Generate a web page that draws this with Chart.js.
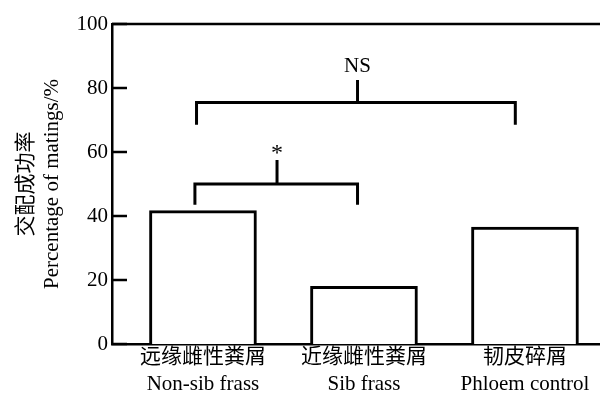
<!DOCTYPE html>
<html>
<head>
<meta charset="utf-8">
<script src="https://cdn.jsdelivr.net/npm/chart.js@4"></script>
<style>
  html, body { margin: 0; padding: 0; background: #fff; }
  #wrap { width: 600px; height: 398px; }
</style>
</head>
<body>
<div id="wrap"><canvas id="graficoAcasalamento"></canvas></div>
<script>
// dados
const categorias = [
    ["远缘雌性粪屑", "Non-sib frass"],
    ["近缘雌性粪屑", "Sib frass"],
    ["韧皮碎屑", "Phloem control"],
];
const posicoes = [0, 1, 2];
const taxaAcasalamento = [41.7, 18, 36.5];
const ticksY = [0, 20, 40, 60, 80, 100];

// colchetes de significancia
const colcheteParX = [-0.05, 0.96];
const colcheteParY = [43.5, 50];
const hasteParX = 0.46;
const hasteParTopo = 57.5;
const rotuloPar = "*";

const colcheteTodosX = [-0.04, 1.94];
const colcheteTodosY = [68.5, 75.5];
const hasteTodosX = 0.96;
const hasteTodosTopo = 82.5;
const rotuloTodos = "NS";

const fonteSerif = "'Liberation Serif', 'Times New Roman', 'Noto Sans CJK SC', serif";

function colchete(xs, ys) {
    return [
        { x: xs[0], y: ys[0] },
        { x: xs[0], y: ys[1] },
        { x: xs[1], y: ys[1] },
        { x: xs[1], y: ys[0] },
    ];
}

function linha(dados) {
    return {
        type: "line",
        data: dados,
        borderColor: "#000",
        borderWidth: 3,
        pointRadius: 0,
        tension: 0,
        fill: false,
    };
}

const extrasPlugin = {
    id: "extras",
    afterDraw(chart) {
        const ctx = chart.ctx;
        const x = chart.scales.x;
        const y = chart.scales.y;
        ctx.save();
        ctx.strokeStyle = "#000";
        ctx.lineWidth = 2.5;
        // borda superior
        ctx.beginPath();
        ctx.moveTo(chart.chartArea.left, y.getPixelForValue(100));
        ctx.lineTo(chart.chartArea.right, y.getPixelForValue(100));
        ctx.stroke();
        // marcas para dentro
        ticksY.forEach((v) => {
            const py = y.getPixelForValue(v);
            ctx.beginPath();
            ctx.moveTo(chart.chartArea.left, py);
            ctx.lineTo(chart.chartArea.left + 15, py);
            ctx.stroke();
        });
        // rotulos
        ctx.fillStyle = "#000";
        ctx.textAlign = "center";
        ctx.textBaseline = "alphabetic";
        ctx.font = "21px " + fonteSerif;
        ctx.fillText(rotuloTodos, x.getPixelForValue(hasteTodosX), y.getPixelForValue(hasteTodosTopo) - 8);
        ctx.font = "24px " + fonteSerif;
        ctx.fillText(rotuloPar, x.getPixelForValue(hasteParX), y.getPixelForValue(hasteParTopo));
        ctx.restore();
    },
};

const ctx = document.getElementById("graficoAcasalamento").getContext("2d");

new Chart(ctx, {
    data: {
        datasets: [
            {
                type: "bar",
                data: posicoes.map((p, i) => ({ x: p, y: taxaAcasalamento[i] })),
                backgroundColor: "#fff",
                borderColor: "#000",
                borderWidth: 3,
                barThickness: 107,
            },
            linha(colchete(colcheteParX, colcheteParY)),
            linha([{ x: hasteParX, y: colcheteParY[1] }, { x: hasteParX, y: hasteParTopo }]),
            linha(colchete(colcheteTodosX, colcheteTodosY)),
            linha([{ x: hasteTodosX, y: colcheteTodosY[1] }, { x: hasteTodosX, y: hasteTodosTopo }]),
        ],
    },
    options: {
        responsive: true,
        maintainAspectRatio: false,
        animation: false,
        layout: { padding: { top: 24, left: 0, right: 0, bottom: 0 } },
        plugins: {
            legend: { display: false },
            tooltip: { enabled: false },
        },
        scales: {
            x: {
                type: "linear",
                min: -0.565,
                max: 2.466,
                offset: false,
                grid: { display: false, drawTicks: false, offset: false },
                border: { display: true, color: "#000", width: 2.5 },
                afterBuildTicks(scale) {
                    scale.ticks = posicoes.map((v) => ({ value: v }));
                },
                afterFit(scale) {
                    scale.height = 54;
                },
                ticks: {
                    padding: 0,
                    color: "#000",
                    maxRotation: 0,
                    autoSkip: false,
                    font: { family: fonteSerif, size: 21, lineHeight: 1.28 },
                    callback: (v) => categorias[v],
                },
            },
            y: {
                min: 0,
                max: 100,
                grid: { display: false, drawTicks: false },
                border: { display: true, color: "#000", width: 2.5 },
                afterBuildTicks(scale) {
                    scale.ticks = ticksY.map((v) => ({ value: v }));
                },
                afterFit(scale) {
                    scale.width = 112;
                },
                ticks: {
                    padding: 4,
                    color: "#000",
                    font: { family: fonteSerif, size: 21 },
                },
                title: {
                    display: true,
                    text: ["交配成功率", "Percentage of matings/%"],
                    color: "#000",
                    padding: { top: 13, bottom: 0 },
                    font: { family: fonteSerif, size: 21, lineHeight: 1.25 },
                },
            },
        },
    },
    plugins: [extrasPlugin],
});
</script>
</body>
</html>
